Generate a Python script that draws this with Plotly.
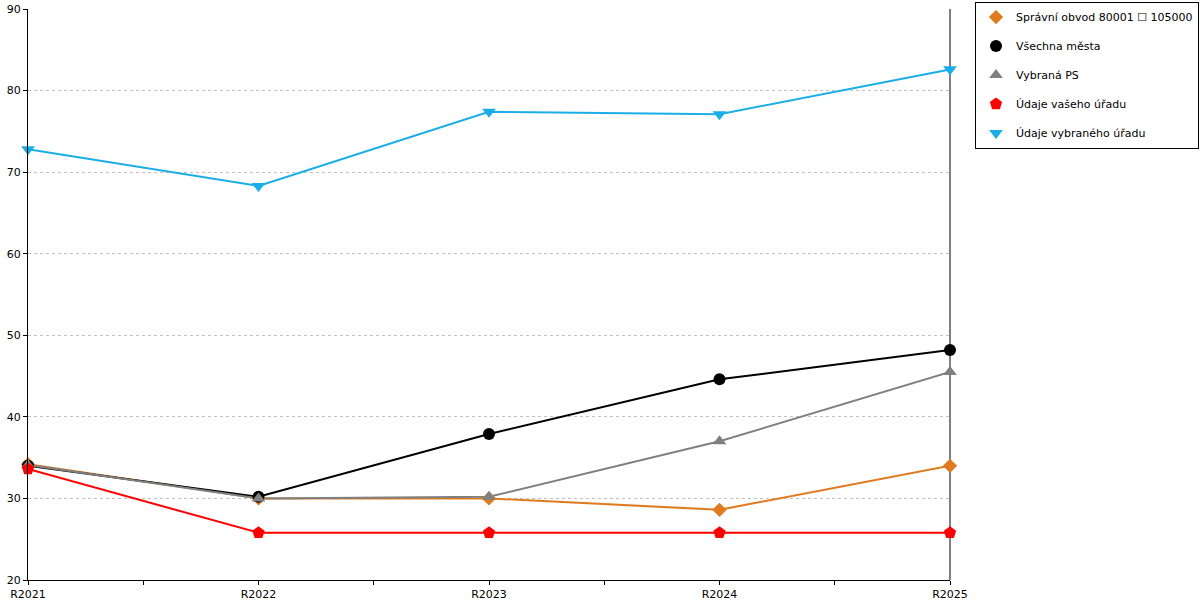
import plotly.graph_objs as go

# Data
roky = ['R2021', 'R2022', 'R2023', 'R2024', 'R2025']
spravni_obvod = [34.2, 30.0, 30.0, 28.6, 34.0]
vsechna_mesta = [34.0, 30.2, 37.9, 44.6, 48.2]
vybrana_ps = [34.1, 30.0, 30.2, 37.0, 45.5]
vas_urad = [33.6, 25.8, 25.8, 25.8, 25.8]
vybrany_urad = [72.8, 68.3, 77.4, 77.1, 82.6]

x = list(range(len(roky)))

serie = [
    ('Správní obvod 80001 ☐ 105000', spravni_obvod, '#e07a20', 'diamond', 11),
    ('Všechna města', vsechna_mesta, '#000000', 'circle', 12),
    ('Vybraná PS', vybrana_ps, '#808080', 'triangle-up', 12),
    ('Údaje vašeho úřadu', vas_urad, '#ff0000', 'pentagon', 13),
    ('Údaje vybraného úřadu', vybrany_urad, '#1aaee8', 'triangle-down', 12),
]

data = []
# nejdriv cary (bez legendy), potom znacky (s legendou)
for i, (nazev, hodnoty, barva, symbol, vel) in enumerate(serie):
    data.append(go.Scatter(x=x, y=hodnoty, mode='lines', showlegend=False,
                           hoverinfo='skip', line={'color': barva, 'width': 2}))
for i, (nazev, hodnoty, barva, symbol, vel) in enumerate(serie):
    data.append(go.Scatter(x=x, y=hodnoty, name=nazev, mode='markers',
                           legendgroup=str(i), cliponaxis=False,
                           marker={'color': barva, 'symbol': symbol, 'size': vel}))

layout = go.Layout(
    width=1200, height=600,
    margin={'l': 28, 'r': 250, 't': 9, 'b': 20, 'autoexpand': False},
    paper_bgcolor='white', plot_bgcolor='white',
    font={'family': 'DejaVu Sans', 'size': 12, 'color': '#000000'},
    xaxis={'range': [0, len(roky) - 1], 'tickvals': x, 'ticktext': roky,
           'showgrid': False, 'zeroline': False, 'showline': True,
           'linecolor': 'black', 'linewidth': 1, 'ticks': 'outside',
           'ticklen': 4, 'tickcolor': 'black', 'tickfont': {'size': 11},
           'minor': {'dtick': 0.5, 'ticks': 'outside', 'ticklen': 4,
                     'tickcolor': 'black', 'showgrid': False}},
    yaxis={'range': [20, 90], 'dtick': 10, 'showgrid': True,
           'gridcolor': '#c0c0c0', 'griddash': 'dot', 'zeroline': False,
           'showline': True, 'linecolor': 'black', 'linewidth': 1,
           'ticks': 'outside', 'ticklen': 4, 'tickcolor': 'black',
           'tickfont': {'size': 11}},
    legend={'x': 1.0271, 'y': 1.013, 'xanchor': 'left', 'yanchor': 'top',
            'bordercolor': 'black', 'borderwidth': 1, 'bgcolor': 'white',
            'traceorder': 'grouped', 'tracegroupgap': 10,
            'font': {'size': 11}, 'itemwidth': 30},
    shapes=[{'type': 'line', 'xref': 'x domain', 'yref': 'y domain',
             'x0': 1, 'x1': 1, 'y0': 0, 'y1': 1, 'layer': 'below',
             'line': {'color': 'black', 'width': 1}}],
    showlegend=True,
)

fig = go.Figure(data=data, layout=layout)
# bez okraje stranky, aby graf sedel presne do okna
fig.write_html("out.html", config={'displayModeBar': False},
               post_script="document.body.style.margin='0';")
